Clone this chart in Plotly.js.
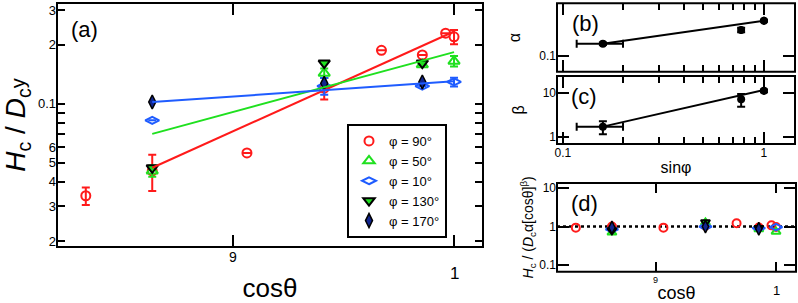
<!DOCTYPE html>
<html>
<head>
<meta charset="utf-8">
<script src="https://cdn.plot.ly/plotly-3.0.1.min.js"></script>
<style>
  html, body { margin: 0; padding: 0; background: #fff; }
  #chart { width: 798px; height: 303px; }
</style>
</head>
<body>
<div id="chart"></div>
<script>
// ---- panel (a): H_c / D_c versus cosθ for five field angles φ ----
const cos90 = [0.839, 0.866, 0.906, 0.940, 0.966, 0.985, 0.996, 1.0];
const hc90 = [0.034, 0.0455, 0.0562, 0.120, 0.187, 0.177, 0.2285, 0.219];
const hc90Err = [0.0035, 0.0095, 0, 0.015, 0, 0, 0, 0.018];

const cos50 = [0.866, 0.940, 0.985, 1.0];
const hc50 = [0.0455, 0.143, 0.158, 0.1647];
const hc50Err = [0.003, 0.008, 0, 0.01];

const cos10 = [0.866, 0.940, 0.985, 1.0];
const hc10 = [0.0823, 0.123, 0.1229, 0.129];
const hc10Err = [0, 0.012, 0, 0.0065];

const cos130 = [0.866, 0.940, 0.985];
const hc130 = [0.0472, 0.161, 0.161];

const cos170 = [0.866, 0.940, 0.985];
const hc170 = [0.102, 0.127, 0.129];

// power-law fits, one per value of sinφ
const fitCos = [0.866, 1.0];
const fitSin100 = [0.0472, 0.233];
const fitSin077 = [0.0702, 0.183];
const fitSin017 = [0.102, 0.130];

// ---- panels (b), (c): fit parameters versus sinφ ----
const sinPhi = [0.158, 0.77, 1.0];
const sinPhiErr = [0.041, 0, 0];
const alpha = [0.1327, 0.182, 0.225];
const alphaErr = [0.004, 0.009, 0.005];
const beta = [1.69, 7.08, 11.1];
const betaErr = [0.55, 2.3, 0.8];
const fitSinPhi = [0.158, 1.0];
const fitAlpha = [0.1327, 0.225];
const fitBeta = [1.69, 11.5];

// ---- panel (d): scaled data ----
const scaled90 = [0.94, 1.0, 0.94, 1.05, 1.22, 0.95, 1.08, 0.98];
const scaled50 = [0.70, 1.28, 0.85, 0.74];
const scaled10 = [0.85, 1.0, 0.91, 0.97];
const scaled130 = [0.80, 1.30, 0.92];
const scaled170 = [0.95, 1.0, 0.88];

// ---- tick labels ----
const hcTickVals = [0.02, 0.03, 0.04, 0.05, 0.06, 0.1, 0.2, 0.3];
const hcTickText = ['2', '3', '4', '5', '6', '0.1', '2', '3'];
const hcMinorVals = [0.07, 0.08, 0.09];
const cosTickVals = [0.9, 1];
const cosTickText = ['9', '1'];
const sinTickVals = [0.1, 1];
const sinTickText = ['0.1', '1'];
const sinMinorVals = [0.2, 0.3, 0.4, 0.5, 0.6, 0.7, 0.8, 0.9];
const alphaTickVals = [0.1];
const alphaTickText = ['0.1'];
const betaTickVals = [1, 10];
const betaTickText = ['1', '10'];
const scaledTickVals = [0.1, 1, 10];
const scaledTickText = ['0.1', '1', '10'];
const legendNames = ['φ = 90°', 'φ = 50°', 'φ = 10°', 'φ = 130°', 'φ = 170°'];

const RED = '#ff1a1a', GREEN = '#1fe01f', BLUE = '#1f5cff', NAVY = '#12258f', BLACK = '#000';
const W = 798, H = 303;
const fx = p => p / W;
const fy = p => 1 - p / H;
const lg = Math.log10;

function errY(arr, color) {
  return { type: 'data', array: arr, visible: true, thickness: 2, width: 4, color: color };
}

const traces = [
  // panel (a)
  { x: cos90, y: hc90, name: legendNames[0], mode: 'markers', xaxis: 'x', yaxis: 'y',
    marker: { symbol: 'circle-open', size: 9, color: RED, line: { width: 2, color: RED } },
    error_y: errY(hc90Err, RED) },
  { x: cos50, y: hc50, name: legendNames[1], mode: 'markers', xaxis: 'x', yaxis: 'y',
    marker: { symbol: 'triangle-up-open', size: 10, color: GREEN, line: { width: 2, color: GREEN } },
    error_y: errY(hc50Err, GREEN) },
  { x: cos10, y: hc10, name: legendNames[2], mode: 'markers', xaxis: 'x', yaxis: 'y',
    marker: { symbol: 'diamond-wide-open', size: 10, color: BLUE, line: { width: 2, color: BLUE } },
    error_y: errY(hc10Err, BLUE) },
  { x: cos130, y: hc130, name: legendNames[3], mode: 'markers', xaxis: 'x', yaxis: 'y',
    marker: { symbol: 'triangle-down', size: 10, color: GREEN, line: { width: 2, color: BLACK } } },
  { x: cos170, y: hc170, name: legendNames[4], mode: 'markers', xaxis: 'x', yaxis: 'y',
    marker: { symbol: 'diamond-tall', size: 10, color: NAVY, line: { width: 1.5, color: BLACK } } },
  { x: fitCos, y: fitSin100, mode: 'lines', xaxis: 'x', yaxis: 'y', showlegend: false,
    line: { color: RED, width: 2 } },
  { x: fitCos, y: fitSin077, mode: 'lines', xaxis: 'x', yaxis: 'y', showlegend: false,
    line: { color: GREEN, width: 2 } },
  { x: fitCos, y: fitSin017, mode: 'lines', xaxis: 'x', yaxis: 'y', showlegend: false,
    line: { color: BLUE, width: 2 } },

  // panel (b)
  { x: fitSinPhi, y: fitAlpha, mode: 'lines', xaxis: 'x2', yaxis: 'y2', showlegend: false,
    line: { color: BLACK, width: 2 } },
  { x: sinPhi, y: alpha, mode: 'markers', xaxis: 'x2', yaxis: 'y2', showlegend: false,
    marker: { symbol: 'circle', size: 8, color: BLACK },
    error_y: errY(alphaErr, BLACK), error_x: errY(sinPhiErr, BLACK) },

  // panel (c)
  { x: fitSinPhi, y: fitBeta, mode: 'lines', xaxis: 'x3', yaxis: 'y3', showlegend: false,
    line: { color: BLACK, width: 2 } },
  { x: sinPhi, y: beta, mode: 'markers', xaxis: 'x3', yaxis: 'y3', showlegend: false,
    marker: { symbol: 'circle', size: 8, color: BLACK },
    error_y: errY(betaErr, BLACK), error_x: errY(sinPhiErr, BLACK) },

  // panel (d)
  { x: cos90, y: scaled90, mode: 'markers', xaxis: 'x4', yaxis: 'y4', showlegend: false,
    marker: { symbol: 'circle-open', size: 8, color: RED, line: { width: 2, color: RED } } },
  { x: cos50, y: scaled50, mode: 'markers', xaxis: 'x4', yaxis: 'y4', showlegend: false,
    marker: { symbol: 'triangle-up-open', size: 8, color: GREEN, line: { width: 2, color: GREEN } } },
  { x: cos10, y: scaled10, mode: 'markers', xaxis: 'x4', yaxis: 'y4', showlegend: false,
    marker: { symbol: 'diamond-wide-open', size: 9, color: BLUE, line: { width: 2, color: BLUE } } },
  { x: cos130, y: scaled130, mode: 'markers', xaxis: 'x4', yaxis: 'y4', showlegend: false,
    marker: { symbol: 'triangle-down', size: 8, color: GREEN, line: { width: 2, color: BLACK } } },
  { x: cos170, y: scaled170, mode: 'markers', xaxis: 'x4', yaxis: 'y4', showlegend: false,
    marker: { symbol: 'diamond-tall', size: 9, color: NAVY, line: { width: 1.5, color: BLACK } } }
];

// axes carry ticks only; the panel outlines are drawn as shapes below
const frame = {
  showline: false, mirror: 'allticks',
  ticks: 'inside', tickwidth: 2, tickcolor: BLACK,
  showgrid: false, zeroline: false, type: 'log', fixedrange: true
};

// box outline around each panel
function box(xr, yr) {
  return { type: 'rect', xref: xr + ' domain', yref: yr + ' domain', x0: 0, x1: 1, y0: 0, y1: 1,
           line: { color: BLACK, width: 2 }, layer: 'above' };
}

function label(text, x, y) {
  return { text: text, xref: 'paper', yref: 'paper', x: fx(x), y: fy(y), showarrow: false,
           xanchor: 'center', yanchor: 'middle', font: { size: 22 } };
}

const layout = {
  width: W, height: H,
  margin: { l: 0, r: 0, t: 0, b: 0 },
  paper_bgcolor: '#fff', plot_bgcolor: '#fff',
  font: { family: 'Liberation Sans, Arial, sans-serif', color: BLACK, size: 12 },
  showlegend: true,
  legend: {
    x: fx(347), y: fy(124), xanchor: 'left', yanchor: 'top',
    bordercolor: BLACK, borderwidth: 2, bgcolor: '#fff',
    font: { size: 13 }, tracegroupgap: 0, itemwidth: 30
  },

  // panel (a)
  xaxis: Object.assign({}, frame, {
    domain: [fx(57), fx(483)], anchor: 'y',
    range: [-0.0822, 0.0060],
    tickvals: cosTickVals, ticklen: 12, showticklabels: false,
    title: { text: 'cosθ', font: { size: 26 }, standoff: 33 }
  }),
  yaxis: Object.assign({}, frame, {
    domain: [fy(247), fy(3)], anchor: 'x',
    range: [lg(0.01865), lg(0.3255)],
    tickvals: hcTickVals, ticktext: hcTickText, ticklen: 8,
    tickfont: { size: 13 },
    minor: { tickvals: hcMinorVals, ticks: 'inside', ticklen: 8, tickwidth: 2, tickcolor: BLACK },
    title: { text: '<i>H</i><sub>c</sub> / <i>D</i><sub>c</sub><span style="font-size:20px">y</span>',
             font: { size: 28 }, standoff: 4 }
  }),

  // panel (b)
  xaxis2: Object.assign({}, frame, {
    domain: [fx(557), fx(795)], anchor: 'y2',
    range: [lg(0.0934), lg(1.427)],
    tickvals: sinTickVals, ticklen: 12, showticklabels: false,
    minor: { tickvals: sinMinorVals, ticks: 'inside', ticklen: 7, tickwidth: 2, tickcolor: BLACK }
  }),
  yaxis2: Object.assign({}, frame, {
    domain: [fy(71.7), fy(3.3)], anchor: 'x2',
    range: [lg(0.0697), lg(0.336)],
    tickvals: alphaTickVals, ticktext: alphaTickText, ticklen: 12,
    tickfont: { size: 12 },
    title: { text: 'α', font: { size: 16 }, standoff: 14 }
  }),

  // panel (c)
  xaxis3: Object.assign({}, frame, {
    domain: [fx(557), fx(795)], anchor: 'y3',
    range: [lg(0.0934), lg(1.427)],
    tickvals: sinTickVals, ticktext: sinTickText, ticklen: 12,
    tickfont: { size: 12 },
    minor: { tickvals: sinMinorVals, ticks: 'inside', ticklen: 7, tickwidth: 2, tickcolor: BLACK },
    title: { text: 'sinφ', font: { size: 16 }, standoff: 2 }
  }),
  yaxis3: Object.assign({}, frame, {
    domain: [fy(144), fy(76)], anchor: 'x3',
    range: [lg(0.68), lg(24)],
    tickvals: betaTickVals, ticktext: betaTickText, ticklen: 12,
    tickfont: { size: 12 },
    title: { text: 'β', font: { size: 16 }, standoff: 14 }
  }),

  // panel (d)
  xaxis4: Object.assign({}, frame, {
    domain: [fx(557), fx(796)], anchor: 'y4',
    range: [-0.0834, 0.0076],
    tickvals: cosTickVals, ticklen: 10, showticklabels: false,
    title: { text: 'cosθ', font: { size: 18 }, standoff: 20 }
  }),
  yaxis4: Object.assign({}, frame, {
    domain: [fy(271.7), fy(183)], anchor: 'x4',
    range: [lg(0.0669), lg(13.7)],
    tickvals: scaledTickVals, ticktext: scaledTickText, ticklen: 12,
    tickfont: { size: 12 },
    title: { text: '<i>H</i><sub>c</sub> / (<i>D</i><sub>c</sub>α[cosθ]<sup>β</sup>)',
             font: { size: 14 }, standoff: 2 }
  }),

  shapes: [
    { type: 'line', xref: 'x4 domain', yref: 'y4', x0: 0, x1: 1, y0: 1, y1: 1,
      line: { color: BLACK, width: 2.5, dash: 'dot' }, layer: 'below' },
    box('x', 'y'), box('x2', 'y2'), box('x3', 'y3'), box('x4', 'y4')
  ],

  annotations: [
    label('(a)', 84, 29), label('(b)', 585, 24), label('(c)', 584, 96), label('(d)', 584, 203),
    // cosθ tick labels, panel (a)
    { text: cosTickText[0], xref: 'x', yref: 'paper', x: lg(cosTickVals[0]), y: fy(257), showarrow: false,
      font: { size: 14 }, xanchor: 'center', yanchor: 'middle' },
    { text: cosTickText[1], xref: 'x', yref: 'paper', x: lg(cosTickVals[1]), y: fy(273), showarrow: false,
      font: { size: 17 }, xanchor: 'center', yanchor: 'middle' },
    // cosθ tick labels, panel (d)
    { text: cosTickText[0], xref: 'x4', yref: 'paper', x: lg(cosTickVals[0]), y: fy(280), showarrow: false,
      font: { size: 9 }, xanchor: 'center', yanchor: 'middle' },
    { text: cosTickText[1], xref: 'x4', yref: 'paper', x: lg(cosTickVals[1]), y: fy(290), showarrow: false,
      font: { size: 13 }, xanchor: 'center', yanchor: 'middle' }
  ]
};

Plotly.newPlot('chart', traces, layout, { staticPlot: true, displayModeBar: false });
</script>
</body>
</html>
